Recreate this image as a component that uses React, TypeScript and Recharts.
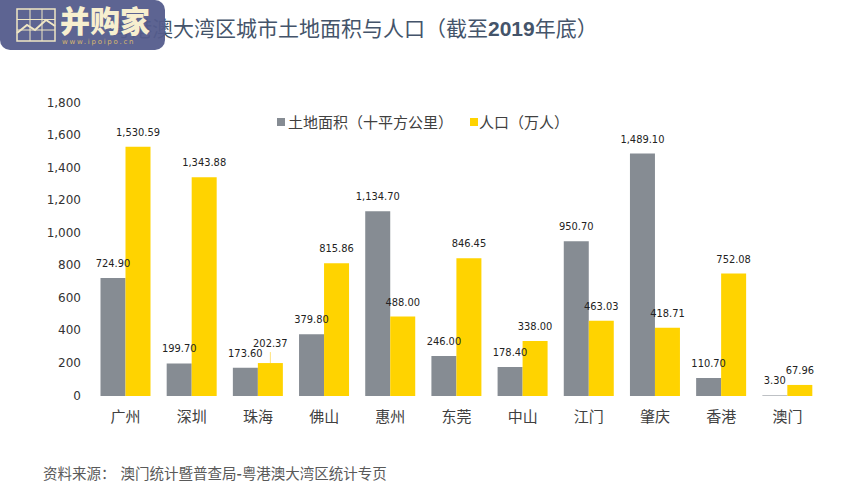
import React from "react";
import { BarChart, Bar, XAxis, YAxis, LabelList } from "recharts";

const categories = ["广州", "深圳", "珠海", "佛山", "惠州", "东莞", "中山", "江门", "肇庆", "香港", "澳门"];
const landArea = [724.9, 199.7, 173.6, 379.8, 1134.7, 246.0, 178.4, 950.7, 1489.1, 110.7, 3.3];
const population = [1530.59, 1343.88, 202.37, 815.86, 488.0, 846.45, 338.0, 463.03, 418.71, 752.08, 67.96];
const yTicks = [0, 200, 400, 600, 800, 1000, 1200, 1400, 1600, 1800];
const rows = categories.map((name, i) => ({ name, land: landArea[i], pop: population[i] }));

const fmt = (v: number) => v.toLocaleString("en-US", { minimumFractionDigits: 2, maximumFractionDigits: 2 });
const labelFont = "'DejaVu Sans', Verdana, sans-serif";
const cjk = "'Noto Sans CJK SC', sans-serif";
const GRAY = "#868c93";
const YELLOW = "#ffd300";

const landLabel = (p: any) => {
  const { x, y, width, value } = p;
  return (
    <text x={x + width / 2} y={y - 14} textAnchor="middle" dominantBaseline="middle"
      fontSize={9.9} fontFamily={labelFont} fill="#222">
      {fmt(value)}
    </text>
  );
};

const popLabel = (p: any) => {
  const { x, y, width, value, index } = p;
  const raised = index === 2;
  return (
    <g>
      {raised && <line x1={x + width / 2} x2={x + width / 2} y1={y - 11} y2={y} stroke="#ffe27a" strokeWidth={1} />}
      <text x={x + width / 2} y={y - (raised ? 19 : 14)} textAnchor="middle" dominantBaseline="middle"
        fontSize={9.9} fontFamily={labelFont} fill="#222">
        {fmt(value)}
      </text>
    </g>
  );
};

const yTick = (p: any) => {
  const { y, payload } = p;
  return (
    <text x={81} y={y} textAnchor="end" dominantBaseline="middle" fontSize={12} fontFamily={labelFont} fill="#333">
      {Number(payload.value).toLocaleString("en-US")}
    </text>
  );
};

export default function App() {
  return (
    <div style={{ position: "absolute", left: 0, top: 0, width: 857, height: 496, background: "#fff", overflow: "hidden" }}>
      <div style={{ position: "absolute", left: 110, top: 13, fontFamily: cjk, fontSize: 21, color: "#44546a", whiteSpace: "nowrap", lineHeight: "28px" }}>
        粤港澳大湾区城市土地面积与人口（截至<span style={{ fontWeight: 700, fontFamily: "'Liberation Sans', sans-serif" }}>2019</span>年底）
      </div>
      <div style={{ position: "absolute", left: 0, top: 0 }}>
        <BarChart width={857} height={496} data={rows} barSize={25} barGap={0} barCategoryGap={16}
          margin={{ top: 103, right: 36.5, bottom: 80, left: 42.5 }}>
          <XAxis dataKey="name" axisLine={false} tickLine={false} interval={0} tickMargin={4}
            tick={{ fontSize: 15, fontFamily: cjk, fill: "#404040", dy: 5 }} height={20} />
          <YAxis width={50} domain={[0, 1800]} ticks={yTicks} axisLine={false} tickLine={false} tick={yTick} interval={0} />
          <Bar dataKey="land" fill={GRAY} isAnimationActive={false}>
            <LabelList dataKey="land" content={landLabel} />
          </Bar>
          <Bar dataKey="pop" fill={YELLOW} isAnimationActive={false}>
            <LabelList dataKey="pop" content={popLabel} />
          </Bar>
        </BarChart>
      </div>
      <div style={{ position: "absolute", left: 277, top: 112, display: "flex", alignItems: "center", fontFamily: cjk, fontSize: 15, color: "#404040", whiteSpace: "nowrap", lineHeight: "20px" }}>
        <span style={{ width: 8, height: 8, background: GRAY, marginRight: 3 }} />
        <span>土地面积（十平方公里）</span>
        <span style={{ width: 8, height: 8, background: YELLOW, marginLeft: 17, marginRight: 1 }} />
        <span>人口（万人）</span>
      </div>
      <div style={{ position: "absolute", left: 43, top: 463, fontFamily: cjk, fontSize: 14.5, color: "#595959", whiteSpace: "pre", lineHeight: "20px" }}>
        资料来源：<span style={{ marginLeft: 5 }}>澳门统计暨普查局<b>-</b>粤港澳大湾区统计专页</span>
      </div>
      <div style={{ position: "absolute", left: 0, top: 0, width: 165, height: 50, background: "rgba(84,92,140,0.95)", borderRadius: "0 10px 10px 10px" }}>
        <svg width={165} height={50} style={{ position: "absolute", left: 0, top: 0 }}>
          <g fill="none" stroke="#efe6c4">
            <rect x={17} y={9} width={38} height={32} strokeWidth={1.5} />
            <path d="M30 9V41M42 9V41M17 19.5H55M17 30H55" strokeWidth={1} />
            <path d="M17 33L27 25L35 30L46 20L55 26" strokeWidth={2} />
          </g>
          <text x={60} y={32} fontSize={30} fontWeight={900} fontFamily={cjk} fill="#f7efcf">并购家</text>
          <text x={62} y={44} fontSize={7} letterSpacing={1.75} fontFamily={labelFont} fill="#d9b96e">www.ipoipo.cn</text>
        </svg>
      </div>
    </div>
  );
}
